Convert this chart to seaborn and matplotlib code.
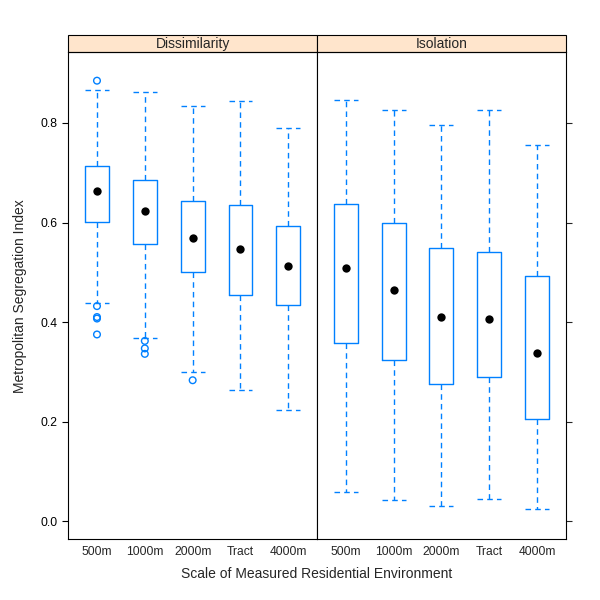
import pandas as pd
import matplotlib.pyplot as plt
import seaborn as sns
from matplotlib.patches import Rectangle

# Escalas medidas (ordem do eixo x)
categorias = ["500m", "1000m", "2000m", "Tract", "4000m"]
medidas = ["Dissimilarity", "Isolation"]

# Resumo de cinco numeros (bigode inf, Q1, mediana, Q3, bigode sup)
dis_lo = [0.438, 0.367, 0.300, 0.263, 0.223]
dis_q1 = [0.602, 0.556, 0.500, 0.455, 0.434]
dis_med = [0.664, 0.623, 0.568, 0.547, 0.513]
dis_q3 = [0.714, 0.685, 0.643, 0.635, 0.592]
dis_hi = [0.866, 0.863, 0.834, 0.845, 0.789]

iso_lo = [0.058, 0.043, 0.031, 0.044, 0.024]
iso_q1 = [0.357, 0.323, 0.275, 0.290, 0.206]
iso_med = [0.508, 0.464, 0.410, 0.407, 0.338]
iso_q3 = [0.637, 0.600, 0.548, 0.541, 0.493]
iso_hi = [0.846, 0.826, 0.795, 0.827, 0.756]

# Outliers (apenas no painel Dissimilarity)
out_cat = ["500m", "500m", "500m", "500m", "500m", "1000m", "1000m", "1000m", "2000m"]
out_val = [0.885, 0.432, 0.410, 0.407, 0.375, 0.362, 0.347, 0.336, 0.283]

azul = "#0080ff"

# Monta os dados em formato longo
linhas = []
resumo = []
for medida, cols in [("Dissimilarity", (dis_lo, dis_q1, dis_med, dis_q3, dis_hi)),
                     ("Isolation", (iso_lo, iso_q1, iso_med, iso_q3, iso_hi))]:
    for i, cat in enumerate(categorias):
        for serie in cols:
            linhas.append({"medida": medida, "escala": cat, "valor": serie[i]})
        resumo.append({"medida": medida, "escala": cat, "mediana": cols[2][i]})
dados = pd.DataFrame(linhas)
medianas = pd.DataFrame(resumo)
outliers = pd.DataFrame({"medida": "Dissimilarity", "escala": out_cat, "valor": out_val})

sns.set_style("white")
plt.rcParams['font.family'] = ['Liberation Sans', 'DejaVu Sans']

g = sns.FacetGrid(dados, col="medida", col_order=medidas, sharey=True, height=5, aspect=0.6)
g.figure.set_size_inches(6, 6)
g.figure.subplots_adjust(left=0.1138, right=0.943, bottom=0.1017, top=0.9128, wspace=0)

for ax, medida in zip(g.axes.flat, medidas):
    sub = dados[dados["medida"] == medida]
    sns.boxplot(data=sub, x="escala", y="valor", order=categorias, ax=ax,
                whis=(0, 100), width=0.5, fill=False, color=azul, linewidth=1,
                showfliers=False, capwidths=0.5,
                medianprops={"visible": False},
                whiskerprops={"linestyle": (0, (4, 3)), "color": azul},
                capprops={"linestyle": (0, (4, 3)), "color": azul},
                boxprops={"color": azul})
    med = medianas[medianas["medida"] == medida]
    sns.stripplot(data=med, x="escala", y="mediana", order=categorias, ax=ax,
                  jitter=False, color="black", size=6, linewidth=0)
    out = outliers[outliers["medida"] == medida]
    if len(out):
        n0 = len(ax.collections)
        sns.stripplot(data=out, x="escala", y="valor", order=categorias, ax=ax,
                      jitter=False, color=azul, size=4.8, linewidth=1, edgecolor=azul)
        # circulos vazados como no lattice
        for col in ax.collections[n0:]:
            col.set_facecolor("none")
            col.set_edgecolor(azul)

    ax.set_xlim(-0.6, 4.6)
    ax.set_ylim(-0.036, 0.942)
    ax.set_yticks([0.0, 0.2, 0.4, 0.6, 0.8])
    ax.set_xlabel("")
    ax.set_ylabel("")
    ax.set_title("")
    ax.tick_params(axis="x", length=0, labelsize=8.7, pad=5)
    for s in ax.spines.values():
        s.set_visible(True)
        s.set_color("black")
        s.set_linewidth(0.8)

    # faixa do titulo do painel, estilo lattice
    h = 17.3 / 486.7
    ax.add_patch(Rectangle((0, 1), 1, h, transform=ax.transAxes, clip_on=False,
                           facecolor="#ffe5cc", edgecolor="black", linewidth=0.8))
    ax.text(0.5, 1 + h / 2, medida, transform=ax.transAxes, ha="center", va="center", fontsize=10)

esq, dir_ = g.axes.flat
esq.tick_params(axis="y", left=True, right=False, labelleft=True, direction="out",
                length=4.5, width=0.8, labelsize=8.7, colors="black")
dir_.tick_params(axis="y", left=False, right=True, labelleft=False, labelright=False,
                 direction="out", length=4.5, width=0.8)

g.figure.text(0.528, 0.043, "Scale of Measured Residential Environment", ha="center", va="center", fontsize=10)
g.figure.text(0.033, 0.507, "Metropolitan Segregation Index", ha="center", va="center",
              rotation=90, fontsize=10)

g.figure.savefig("out.png", dpi=100)
